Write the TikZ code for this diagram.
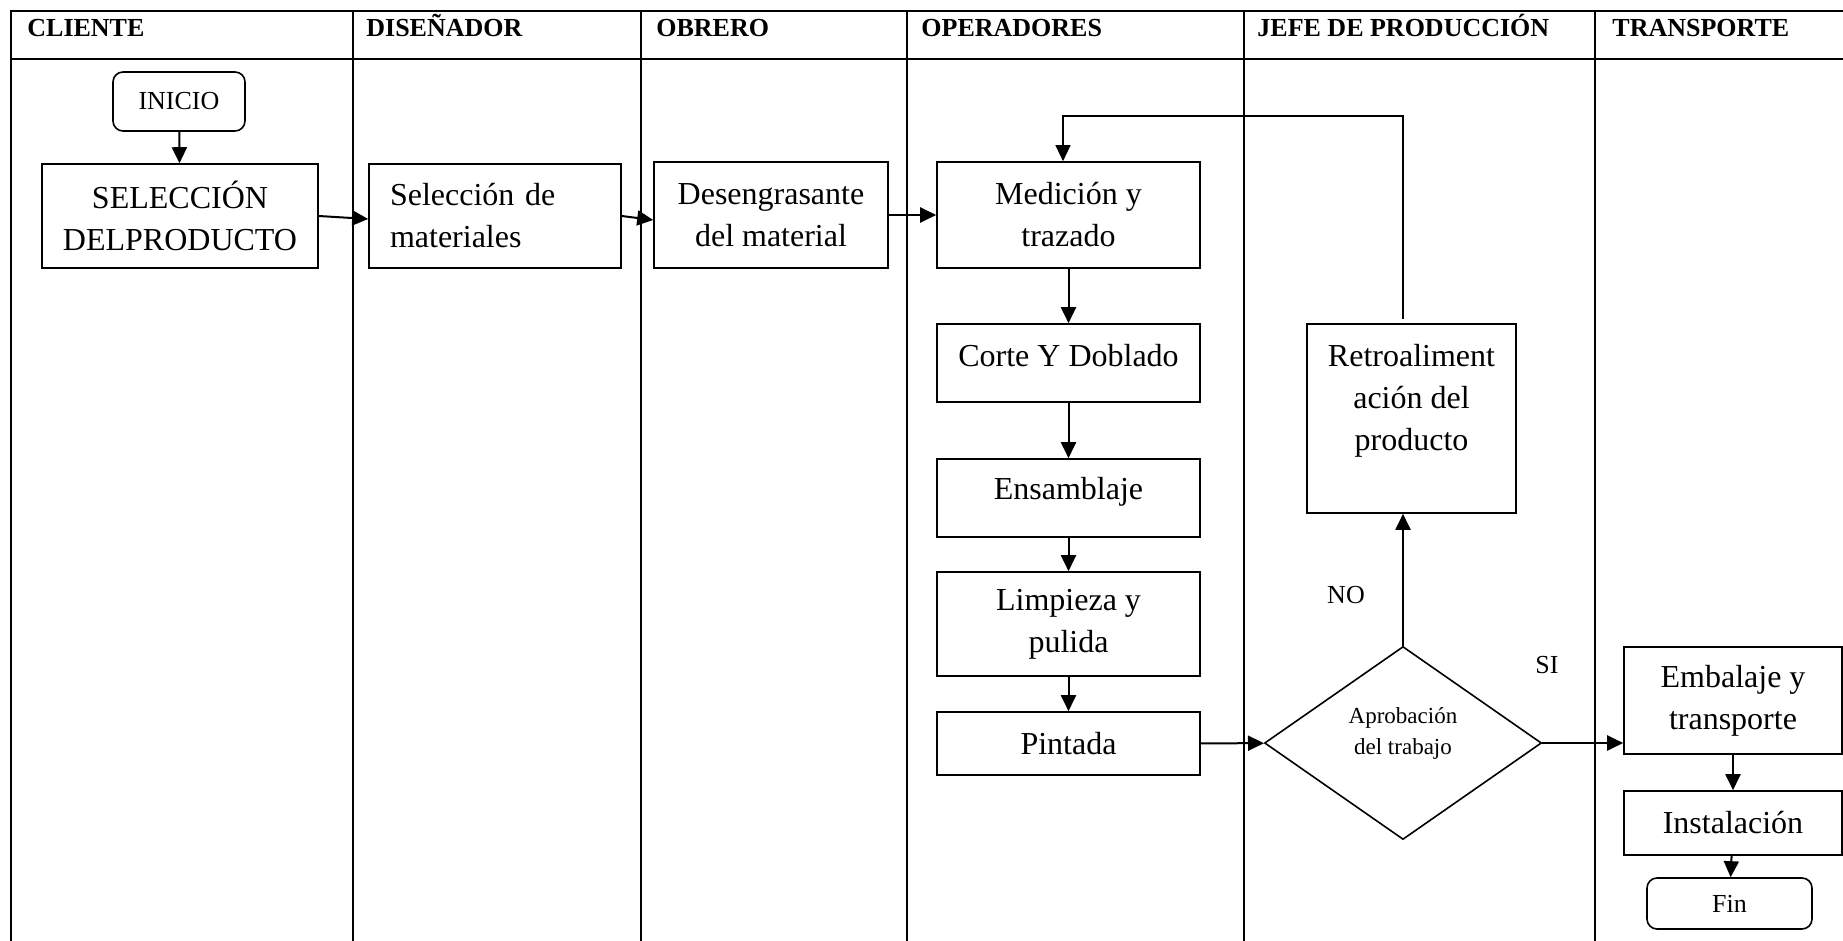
\documentclass[tikz,border=0pt]{standalone}
\usepackage{fontspec}
\setmainfont{Liberation Serif}
\usetikzlibrary{arrows.meta,shapes.geometric}

\begin{document}
\begin{tikzpicture}[x=0.5pt, y=-0.5pt,
  lane/.style={line width=1pt},
  lanetitle/.style={anchor=base west, inner sep=0pt, font=\bfseries\fontsize{13}{16}\selectfont},
  box/.style={draw, line width=0.8pt, align=center, inner sep=0pt, font=\fontsize{16}{21}\selectfont},
  endbox/.style={box, rounded corners=5pt, font=\fontsize{13}{16}\selectfont},
  decision/.style={draw, diamond, line width=0.8pt, align=center, inner sep=0pt, font=\fontsize{11.5}{15.5}\selectfont},
  note/.style={inner sep=0pt, font=\fontsize{13}{16}\selectfont},
  flow/.style={line width=1pt, -{Triangle[length=8pt,width=7.5pt]}},
  feedback/.style={line width=0.6pt, -{Triangle[length=8pt,width=7.5pt]}}]
\useasboundingbox (0,0) rectangle (1843,941);
% Draw lanes
\draw[lane] (11,941) -- (11,11) -- (1843,11);
\draw[lane] (11,59) -- (1843,59);
\draw[lane] (353,11) -- (353,941);
\draw[lane] (641,11) -- (641,941);
\draw[lane] (907,11) -- (907,941);
\draw[lane] (1244,11) -- (1244,941);
\draw[lane] (1595,11) -- (1595,941);
% Draw lane titles
\node[lanetitle] (cliente) at (27,37) {CLIENTE};
\node[lanetitle] (disenador) at (366,37) {DISEÑADOR};
\node[lanetitle] (obrero) at (656,37) {OBRERO};
\node[lanetitle] (operadores) at (921,37) {OPERADORES};
\node[lanetitle] (jefe) at (1257,37) {JEFE DE PRODUCCIÓN};
\node[lanetitle] (transporte) at (1612,37) {TRANSPORTE};
% Draw boxes
\node[endbox, minimum width=66pt, minimum height=29.5pt] (inicio) at (179,101.5) {INICIO};
\node[box, minimum width=138pt, minimum height=52pt] (seleccion) at (180,216) {SELECCIÓN\\DELPRODUCTO};
\node[box, minimum height=52pt, inner xsep=10.5pt, text width=105pt, align=left] (materiales) at (495,216) {Selección de\\materiales};
\node[box, minimum width=117pt, minimum height=53pt] (desengrasante) at (771,215) {Desengrasante\\del material};
\node[box, minimum width=131.5pt, minimum height=53pt] (medicion) at (1068.5,215) {Medición y\\trazado};
\node[box, minimum width=131.5pt, minimum height=39pt, text depth=8pt] (corte) at (1068.5,363) {Corte Y Doblado};
\node[box, minimum width=131.5pt, minimum height=39pt, text depth=10pt] (ensamblaje) at (1068.5,498) {Ensamblaje};
\node[box, minimum width=131.5pt, minimum height=52pt] (limpieza) at (1068.5,624) {Limpieza y\\pulida};
\node[box, minimum width=131.5pt, minimum height=31.5pt] (pintada) at (1068.5,743.5) {Pintada};
\node[box, minimum width=104.5pt, minimum height=94.5pt, text depth=21.5pt] (retro) at (1411.5,418.5) {Retroaliment\\ación del\\producto};
\node[decision, minimum width=138.5pt, minimum height=96.5pt, text depth=12pt] (aprobacion) at (1403,743) {Aprobación\\del trabajo};
\node[box, minimum width=109pt, minimum height=53.5pt] (embalaje) at (1733,700.5) {Embalaje y\\transporte};
\node[box, minimum width=109pt, minimum height=32pt] (instalacion) at (1733,823) {Instalación};
\node[endbox, minimum width=82.5pt, minimum height=25.5pt] (fin) at (1729.5,903.5) {Fin};
% Draw labels
\node[note] (no) at (1346,595) {NO};
\node[note] (si) at (1547,665) {SI};
% Draw arrows
\coordinate (loop) at (1063,116);
\draw[flow] (inicio) -- (seleccion);
\draw[flow] (seleccion.east) -- ([yshift=-1.5pt]materiales.west);
\draw[flow] (materiales.east) -- ([yshift=-2.5pt]desengrasante.west);
\draw[flow] (desengrasante) -- (medicion);
\draw[flow] (medicion) -- (corte);
\draw[flow] (corte) -- (ensamblaje);
\draw[flow] (ensamblaje) -- (limpieza);
\draw[flow] (limpieza) -- (pintada);
\draw[flow] (pintada) -- (aprobacion);
\draw[flow] (aprobacion.north) -- (aprobacion.north |- retro.south);
\draw[feedback] ([yshift=2pt]aprobacion.north |- retro.north) |- (loop) -- (loop |- medicion.north);
\draw[flow] (aprobacion.east) -- (aprobacion.east -| embalaje.west);
\draw[flow] (embalaje) -- (instalacion);
\draw[flow] (instalacion) -- (fin);
\end{tikzpicture}
\end{document}
